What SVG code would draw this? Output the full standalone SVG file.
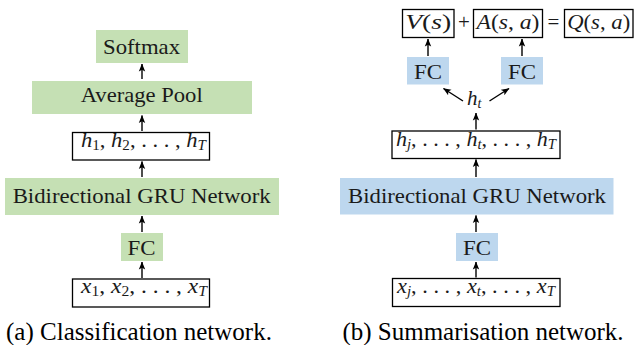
<svg xmlns="http://www.w3.org/2000/svg" width="634" height="345" viewBox="0 0 634 345">
<defs>
<style>
text{font-family:'Liberation Serif','Tinos','Times New Roman',Times,'DejaVu Serif','Noto Serif','FreeSerif',serif}
.t{font-size:21.5px;fill:#1a1a1a}
.m{font-size:21px;fill:#1a1a1a}
.i{font-style:italic}
.cap{font-size:25px;fill:#000}
.g{fill:#c5e0b4}
.b{fill:#bdd7ee}
.w{fill:#fff;stroke:#000;stroke-width:1.3}
.c{stroke:#000;stroke-width:1.4;fill:none;marker-end:url(#ah)}
</style>
<marker id="ah" viewBox="0 0 8 8" refX="7.5" refY="4" markerWidth="8" markerHeight="8" markerUnits="userSpaceOnUse" orient="auto">
<path d="M0,0.8 L8,4 L0,7.2 L1.8,4 Z" fill="#000"/>
</marker>
</defs>

<!-- (a) Classification network -->
<g id="softmax"><rect class="g" x="96" y="30" width="92" height="33"/><text class="t" x="141.5" y="54" text-anchor="middle" textLength="77" lengthAdjust="spacingAndGlyphs">Softmax</text></g>
<g id="avgpool"><rect class="g" x="32" y="81" width="220" height="33"/><text class="t" x="141.7" y="102" text-anchor="middle" textLength="122" lengthAdjust="spacingAndGlyphs">Average Pool</text></g>
<g id="h_a"><rect class="w" x="72.5" y="132.5" width="137" height="27.5"/><text class="m" x="81" y="146.5" textLength="125" lengthAdjust="spacingAndGlyphs"><tspan class="i">h</tspan><tspan font-size="14" dy="3">1</tspan><tspan dy="-3">, </tspan><tspan class="i">h</tspan><tspan font-size="14" dy="3">2</tspan><tspan dy="-3">, . . . , </tspan><tspan class="i">h</tspan><tspan class="i" font-size="14" dy="3">T</tspan></text></g>
<g id="gru_a"><rect class="g" x="5" y="178" width="274" height="37"/><text class="t" x="141.7" y="203" text-anchor="middle" textLength="258" lengthAdjust="spacingAndGlyphs">Bidirectional GRU Network</text></g>
<g id="fc_a"><rect class="g" x="121" y="233" width="42" height="28"/><text class="t" x="141.5" y="254.5" text-anchor="middle" textLength="28" lengthAdjust="spacingAndGlyphs">FC</text></g>
<g id="x_a"><rect class="w" x="72.5" y="279" width="137" height="28"/><text class="m" x="81" y="293" textLength="126" lengthAdjust="spacingAndGlyphs"><tspan class="i">x</tspan><tspan font-size="14" dy="3">1</tspan><tspan dy="-3">, </tspan><tspan class="i">x</tspan><tspan font-size="14" dy="3">2</tspan><tspan dy="-3">, . . . , </tspan><tspan class="i">x</tspan><tspan class="i" font-size="14" dy="3">T</tspan></text></g>

<!-- (b) Summarisation network -->
<g id="vs"><rect class="w" x="402.5" y="9.5" width="51.5" height="28"/><text class="m" x="428.2" y="29" text-anchor="middle" textLength="46" lengthAdjust="spacingAndGlyphs"><tspan class="i">V</tspan>(<tspan class="i">s</tspan>)</text></g>
<g id="plus"><text class="m" x="464" y="29" text-anchor="middle">+</text></g>
<g id="as"><rect class="w" x="473.5" y="9.5" width="69" height="28"/><text class="m" x="508" y="29" text-anchor="middle" textLength="63" lengthAdjust="spacingAndGlyphs"><tspan class="i">A</tspan>(<tspan class="i">s</tspan>, <tspan class="i">a</tspan>)</text></g>
<g id="eq"><text class="m" x="553.5" y="29" text-anchor="middle">=</text></g>
<g id="qs"><rect class="w" x="564.5" y="9.5" width="68.5" height="28"/><text class="m" x="598.7" y="29" text-anchor="middle" textLength="63" lengthAdjust="spacingAndGlyphs"><tspan class="i">Q</tspan>(<tspan class="i">s</tspan>, <tspan class="i">a</tspan>)</text></g>
<g id="fc_v"><rect class="b" x="407" y="57" width="42" height="27.5"/><text class="t" x="428" y="78.5" text-anchor="middle" textLength="28" lengthAdjust="spacingAndGlyphs">FC</text></g>
<g id="fc_adv"><rect class="b" x="501" y="57" width="42" height="27.5"/><text class="t" x="522" y="78.5" text-anchor="middle" textLength="28" lengthAdjust="spacingAndGlyphs">FC</text></g>
<g id="ht"><text class="m" x="467" y="105"><tspan class="i">h</tspan><tspan class="i" font-size="14" dy="3">t</tspan></text></g>
<g id="h_b"><rect class="w" x="392" y="131" width="168" height="27.5"/><text class="m" x="396" y="146" textLength="160" lengthAdjust="spacingAndGlyphs"><tspan class="i">h</tspan><tspan class="i" font-size="14" dy="3">j</tspan><tspan dy="-3">, . . . , </tspan><tspan class="i">h</tspan><tspan class="i" font-size="14" dy="3">t</tspan><tspan dy="-3">, . . . , </tspan><tspan class="i">h</tspan><tspan class="i" font-size="14" dy="3">T</tspan></text></g>
<g id="gru_b"><rect class="b" x="340" y="178" width="273.5" height="36.5"/><text class="t" x="477" y="203" text-anchor="middle" textLength="258" lengthAdjust="spacingAndGlyphs">Bidirectional GRU Network</text></g>
<g id="fc_b"><rect class="b" x="456" y="233" width="42" height="28"/><text class="t" x="477" y="254.5" text-anchor="middle" textLength="28" lengthAdjust="spacingAndGlyphs">FC</text></g>
<g id="x_b"><rect class="w" x="392.5" y="278.5" width="167.5" height="28"/><text class="m" x="397" y="293" textLength="158" lengthAdjust="spacingAndGlyphs"><tspan class="i">x</tspan><tspan class="i" font-size="14" dy="3">j</tspan><tspan dy="-3">, . . . , </tspan><tspan class="i">x</tspan><tspan class="i" font-size="14" dy="3">t</tspan><tspan dy="-3">, . . . , </tspan><tspan class="i">x</tspan><tspan class="i" font-size="14" dy="3">T</tspan></text></g>

<g id="connectors">
<line class="c" x1="142" y1="79" x2="142" y2="64"/>
<line class="c" x1="142" y1="131" x2="142" y2="115.5"/>
<line class="c" x1="142" y1="177" x2="142" y2="161.5"/>
<line class="c" x1="142" y1="232" x2="142" y2="216"/>
<line class="c" x1="142" y1="278" x2="142" y2="262"/>
<line class="c" x1="476" y1="277.5" x2="476" y2="262"/>
<line class="c" x1="476" y1="232" x2="476" y2="215.5"/>
<line class="c" x1="476" y1="177" x2="476" y2="159.5"/>
<line class="c" x1="476" y1="129.5" x2="476" y2="113"/>
<line class="c" x1="463" y1="101" x2="443.5" y2="88.5"/>
<line class="c" x1="489.5" y1="101" x2="509" y2="88.5"/>
<line class="c" x1="428" y1="56" x2="428" y2="39"/>
<line class="c" x1="522" y1="56" x2="522" y2="39"/>
</g>

<text class="cap" x="139" y="339.5" text-anchor="middle">(a) Classification network.</text>
<text class="cap" x="483" y="339.5" text-anchor="middle">(b) Summarisation network.</text>
</svg>
